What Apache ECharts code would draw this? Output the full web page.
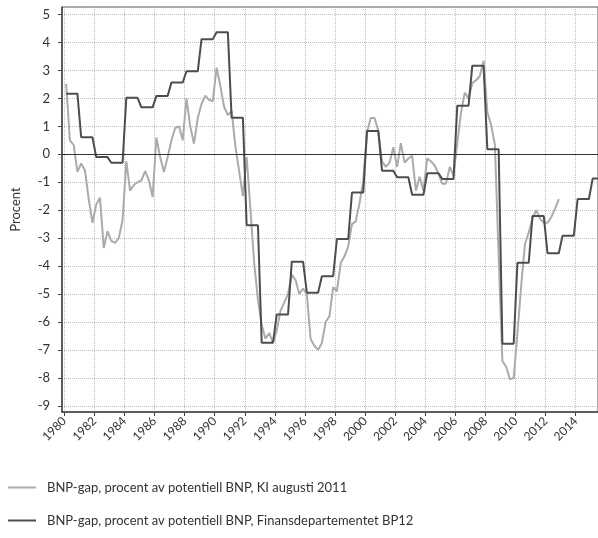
<!DOCTYPE html>
<html><head><meta charset="utf-8">
<script src="https://cdn.jsdelivr.net/npm/echarts@6/dist/echarts.min.js"></script>
<style>html,body{margin:0;padding:0;background:#fff}#c{width:598px;height:538px}</style>
</head><body><div id="c"></div>
<script>
// Series names
const seriesNames = [
  'BNP-gap, procent av potentiell BNP, KI augusti 2011',
  'BNP-gap, procent av potentiell BNP, Finansdepartementet BP12'
];
// KI augusti 2011: quarterly, 1980Q1 .. 2012Q4
const kiStartYear = 1980;
const kiQuarterly = [
  2.53, 0.5, 0.34, -0.63,
  -0.33, -0.57, -1.6, -2.45,
  -1.8, -1.55, -3.35, -2.75,
  -3.1, -3.17, -3.0, -2.35,
  -0.25, -1.3, -1.1, -1.0,
  -0.93, -0.6, -0.93, -1.53,
  0.6, -0.1, -0.63, -0.1,
  0.5, 0.94, 1.0, 0.5,
  2.0, 1.0, 0.38, 1.3,
  1.8, 2.1, 1.95, 1.9,
  3.1, 2.45, 1.7, 1.4,
  1.55, 0.3, -0.6, -1.5,
  -0.1, -1.95, -3.9, -5.2,
  -6.1, -6.6, -6.4, -6.75,
  -6.3, -5.6, -5.3, -5.0,
  -4.3, -4.5, -5.0, -4.8,
  -5.0, -6.6, -6.85, -7.0,
  -6.75, -6.0, -5.8, -4.75,
  -4.9, -3.9, -3.65, -3.3,
  -2.5, -2.4, -1.75, -0.95,
  0.8, 1.3, 1.3, 0.85,
  -0.25, -0.45, -0.3, 0.25,
  -0.45, 0.4, -0.3, -0.15,
  -0.05, -1.3, -0.8, -1.3,
  -0.15, -0.25, -0.4, -0.7,
  -1.05, -1.05, -0.45, -0.75,
  0.4, 1.5, 2.2, 2.0,
  2.55, 2.65, 2.8, 3.35,
  1.5, 1.05, 0.35, -3.6,
  -7.4, -7.6, -8.05, -8.0,
  -6.4, -4.7, -3.2, -2.8,
  -2.3, -2.0, -2.3, -2.45,
  -2.45, -2.25, -1.95, -1.6
];
// Finansdepartementet BP12: annual values 1980 .. 2015
const fdYears = [1980,1981,1982,1983,1984,1985,1986,1987,1988,1989,1990,1991,1992,1993,1994,1995,1996,1997,1998,1999,2000,2001,2002,2003,2004,2005,2006,2007,2008,2009,2010,2011,2012,2013,2014,2015];
const fdValues = [2.17, 0.61, -0.1, -0.3, 2.02, 1.68, 2.09, 2.57, 2.97, 4.12, 4.37, 1.31, -2.54, -6.74, -5.73, -3.84, -4.95, -4.36, -3.03, -1.37, 0.83, -0.59, -0.82, -1.45, -0.68, -0.88, 1.74, 3.17, 0.18, -6.78, -3.88, -2.21, -3.54, -2.91, -1.6, -0.87];
// Tick labels
const xTickYears = [1980,1982,1984,1986,1988,1990,1992,1994,1996,1998,2000,2002,2004,2006,2008,2010,2012,2014];
const yTickValues = [-9,-8,-7,-6,-5,-4,-3,-2,-1,0,1,2,3,4,5];

// quarterly -> mid-quarter year positions
const kiData = kiQuarterly.map((v, i) => [kiStartYear + 0.125 + 0.25 * i, v]);
const fdData = [];
fdYears.forEach((y, i) => { fdData.push([y + 0.125, fdValues[i]]); fdData.push([y + 0.875, fdValues[i]]); });

const FONT = 'Lato, "Open Sans", sans-serif';
const legendBase = {
  orient: 'vertical', left: 3, itemWidth: 28, itemHeight: 2, icon: 'rect',
  textStyle: {fontSize: 13, color: '#333', fontFamily: FONT, padding: [0, 0, 0, 6]}
};
const chart = echarts.init(document.getElementById('c'), null, {renderer: 'canvas'});
chart.setOption({
  animation: false,
  backgroundColor: '#fff',
  grid: {left: 62, right: 0, top: 7, bottom: 126, show: true, borderColor: '#555', borderWidth: 1, backgroundColor: 'transparent'},
  legend: [
    Object.assign({}, legendBase, {top: 476, data: [seriesNames[0]]}),
    Object.assign({}, legendBase, {top: 509, data: [seriesNames[1]]})
  ],
  xAxis: {
    type: 'value', min: 1979.85, max: 2015.48,
    axisLine: {show: true, onZero: false, lineStyle: {color: '#444', width: 1.5}},
    axisTick: {show: true, customValues: xTickYears, length: 4, lineStyle: {color: '#444'}},
    axisLabel: {customValues: xTickYears, rotate: 45, margin: 7, fontSize: 12, color: '#333', fontFamily: FONT, formatter: v => String(v)},
    splitLine: {show: true, lineStyle: {color: '#bdbdbd', type: [1, 1], width: 1}}
  },
  yAxis: {
    type: 'value', min: -9.22, max: 5.27,
    name: 'Procent', nameLocation: 'middle', nameGap: 40,
    nameTextStyle: {fontSize: 13, color: '#333', fontFamily: FONT},
    axisLine: {show: true, lineStyle: {color: '#444', width: 1.5}},
    axisTick: {show: true, customValues: yTickValues, length: 4, lineStyle: {color: '#444'}},
    axisLabel: {customValues: yTickValues, margin: 12, fontSize: 13, color: '#333', fontFamily: FONT, formatter: v => String(v)},
    splitLine: {show: true, lineStyle: {color: '#bdbdbd', type: [1, 1], width: 1}}
  },
  series: [
    {
      name: seriesNames[0], type: 'line', data: kiData, symbol: 'none',
      lineStyle: {color: '#ababab', width: 2}, itemStyle: {color: '#ababab'},
      markLine: {silent: true, symbol: 'none', label: {show: false},
        lineStyle: {color: '#333', width: 1, type: 'solid'}, data: [{yAxis: 0}]}
    },
    {
      name: seriesNames[1], type: 'line', data: fdData, symbol: 'none',
      lineStyle: {color: '#4d4d4d', width: 2}, itemStyle: {color: '#4d4d4d'}
    }
  ]
});
</script>
</body></html>
